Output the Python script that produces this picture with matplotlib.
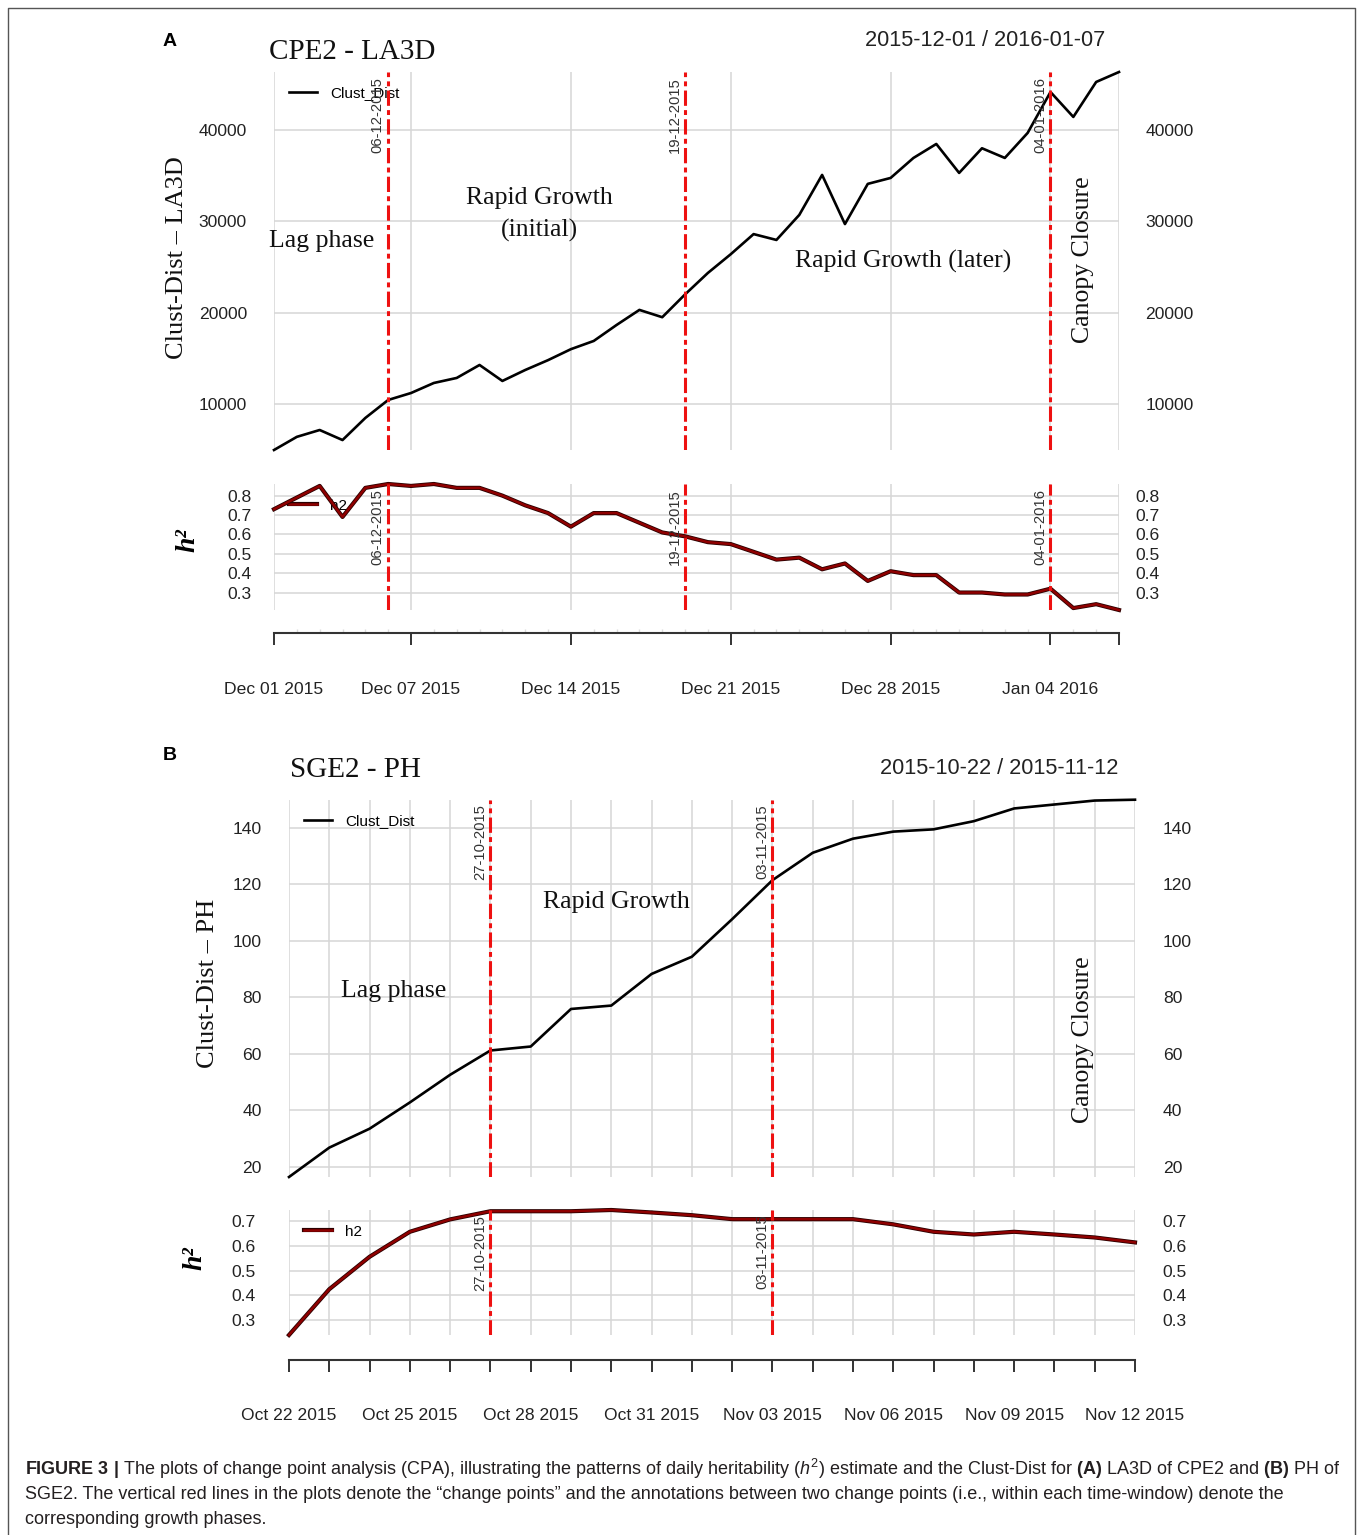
import numpy as np
import pandas as pd
import matplotlib
matplotlib.use("Agg")
import matplotlib.pyplot as plt
import matplotlib.dates as mdates
import matplotlib.patheffects as pe
from matplotlib.lines import Line2D

# ---- data ----
dates_a = pd.date_range("2015-12-01", "2016-01-07")
clust_a = [4960, 6400, 7150, 6050, 8470, 10440, 11200, 12300, 12850, 14270,
           12520, 13720, 14800, 16000, 16900, 18650, 20300, 19500, 22000, 24350,
           26400, 28600, 27960, 30700, 35080, 29700, 34100, 34750, 36940, 38470,
           35300, 38000, 36940, 39680, 44160, 41430, 45260, 46350]
h2_a = [0.73, 0.79, 0.85, 0.69, 0.84, 0.86, 0.85, 0.86, 0.84, 0.84,
        0.80, 0.75, 0.71, 0.64, 0.71, 0.71, 0.66, 0.61, 0.59, 0.56,
        0.55, 0.51, 0.47, 0.48, 0.42, 0.45, 0.36, 0.41, 0.39, 0.39,
        0.30, 0.30, 0.29, 0.29, 0.32, 0.22, 0.24, 0.21]
cp_a = ["2015-12-06", "2015-12-19", "2016-01-04"]
cp_a_labels = ["06-12-2015", "19-12-2015", "04-01-2016"]
ticks_a = ["2015-12-01", "2015-12-07", "2015-12-14", "2015-12-21", "2015-12-28", "2016-01-04", "2016-01-07"]
ticklabels_a = ["Dec 01 2015", "Dec 07 2015", "Dec 14 2015", "Dec 21 2015", "Dec 28 2015", "Jan 04 2016", ""]
yticks_a = [10000, 20000, 30000, 40000]

dates_b = pd.date_range("2015-10-22", "2015-11-12")
clust_b = [16.4, 26.8, 33.5, 42.8, 52.6, 61.2, 62.6, 75.9, 77.1, 88.3, 94.4,
           107.7, 121.5, 131.2, 136.2, 138.7, 139.5, 142.4, 146.9, 148.3, 149.7, 150.0]
h2_b = [0.24, 0.425, 0.556, 0.657, 0.707, 0.74, 0.74, 0.74, 0.745, 0.735, 0.724,
        0.708, 0.708, 0.708, 0.708, 0.687, 0.657, 0.646, 0.657, 0.646, 0.634, 0.614]
cp_b = ["2015-10-27", "2015-11-03"]
cp_b_labels = ["27-10-2015", "03-11-2015"]
ticklabels_b = ["Oct 22 2015", "Oct 25 2015", "Oct 28 2015", "Oct 31 2015",
                "Nov 03 2015", "Nov 06 2015", "Nov 09 2015", "Nov 12 2015"]
yticks_b = [20, 40, 60, 80, 100, 120, 140]
h2_ticks_a = [0.3, 0.4, 0.5, 0.6, 0.7, 0.8]
h2_ticks_b = [0.3, 0.4, 0.5, 0.6, 0.7]

SANS = "Liberation Sans"
SERIF = "Liberation Serif"
RED = "#ee1111"
GRID = "#d6d6d6"
plt.rcParams["font.family"] = SANS
plt.rcParams["font.size"] = 12.6
plt.rcParams["mathtext.fontset"] = "custom"
plt.rcParams["mathtext.rm"] = SANS
plt.rcParams["mathtext.it"] = SANS + ":italic"
plt.rcParams["mathtext.bf"] = SANS + ":bold"

W, H = 1360, 1535
fig = plt.figure(figsize=(W / 100, H / 100), dpi=100)


def box(l, t, r, b):
    # pixel box -> figure fraction
    return [l / W, 1 - b / H, (r - l) / W, (b - t) / H]


def ftxt(x, y, s, **kw):
    fig.text(x / W, 1 - y / H, s, **kw)


def clean(ax):
    for s in ax.spines.values():
        s.set_visible(False)
    ax.patch.set_visible(False)


def right_labels(ax, ticks, pad):
    sec = ax.secondary_yaxis("right")
    sec.set_yticks(ticks)
    sec.tick_params(length=0, pad=pad, labelcolor="#222")
    sec.spines["right"].set_visible(False)


def cp_lines(ax, cps, labels):
    for c, lab in zip(cps, labels):
        c = mdates.date2num(pd.Timestamp(c))
        ax.axvline(c, color=RED, lw=2.2, ls=(0, (5, 1.4, 1.6, 1.4)), zorder=4)
        ax.annotate(lab, xy=(c, 1), xycoords=("data", "axes fraction"),
                    xytext=(-2.5, -3.5), textcoords="offset points", rotation=90,
                    ha="right", va="top", fontsize=10.6, color="#333", zorder=5)


def add_legend(ax):
    leg = ax.legend(loc="upper left", frameon=False, fontsize=11, handlelength=1.85,
                    handletextpad=0.85, borderaxespad=0.75, borderpad=0.2)
    leg.set_zorder(1)


def draw_panel(rects, dates, clust, h2, cps, cp_labels, yticks, h2_ticks,
               grid_dates, tick_dates, tick_labels, pads, minor_days):
    x = mdates.date2num(dates)
    r_main, r_h2, r_x = rects

    # Clust-Dist panel
    ax = fig.add_axes(box(*r_main))
    ax.plot(x, clust, color="black", lw=1.9, clip_on=False, zorder=3, label="Clust_Dist")
    ax.set_xlim(x[0], x[-1])
    ax.set_ylim(min(clust), max(clust))
    ax.set_yticks(yticks)
    ax.set_xticks(mdates.date2num(grid_dates))
    ax.grid(color=GRID, lw=1.1)
    ax.set_axisbelow(True)
    ax.tick_params(length=0, labelbottom=False, pad=pads[0], labelcolor="#222")
    clean(ax)
    right_labels(ax, yticks, pads[1])
    cp_lines(ax, cps, cp_labels)
    add_legend(ax)

    # h2 panel
    ah = fig.add_axes(box(*r_h2))
    ah.plot(x, h2, color="#8f0000", lw=1.8, clip_on=False, zorder=3, label="h2",
            path_effects=[pe.Stroke(linewidth=3.0, foreground="#2a0000"), pe.Normal()])
    ah.set_xlim(x[0], x[-1])
    ah.set_ylim(min(h2), max(h2))
    ah.set_yticks(h2_ticks)
    ah.set_xticks(mdates.date2num(grid_dates))
    ah.grid(color=GRID, lw=1.1)
    ah.set_axisbelow(True)
    ah.tick_params(length=0, labelbottom=False, pad=pads[2], labelcolor="#222")
    clean(ah)
    right_labels(ah, h2_ticks, pads[3])
    cp_lines(ah, cps, cp_labels)
    add_legend(ah)

    # separate date axis below
    axx = fig.add_axes(box(*r_x))
    clean(axx)
    axx.spines["bottom"].set_visible(True)
    axx.spines["bottom"].set_color("#333")
    axx.spines["bottom"].set_linewidth(1.5)
    axx.set_xlim(x[0], x[-1])
    axx.set_yticks([])
    axx.set_xticks(mdates.date2num(tick_dates))
    axx.set_xticklabels(tick_labels)
    axx.tick_params(axis="x", direction="out", length=8.6, width=1.4, color="#333",
                    pad=pads[4], labelcolor="#222")
    if minor_days:
        axx.set_xticks(x, minor=True)
        axx.tick_params(axis="x", which="minor", direction="in", length=3, width=1, color="#dddddd")
    return ax, ah


# ---- panel A ----
axA, ahA = draw_panel([(274, 72, 1119, 450), (274, 484, 1119, 610), (274, 620, 1119, 633)],
                      dates_a, clust_a, h2_a, cp_a, cp_a_labels, yticks_a, h2_ticks_a,
                      pd.to_datetime(ticks_a), pd.to_datetime(ticks_a), ticklabels_a,
                      (19.5, 19, 16, 12, 26.5), True)
serif = dict(family=SERIF, fontsize=18.5, color="#111")
axA.text(-0.006, 0.553, "Lag phase", transform=axA.transAxes, ha="left", va="center", **serif)
axA.text(0.3136, 0.624, "Rapid Growth\n(initial)", transform=axA.transAxes, ha="center",
         va="center", linespacing=1.55, **serif)
axA.text(0.745, 0.50, "Rapid Growth (later)", transform=axA.transAxes, ha="center", va="center", **serif)
axA.text(0.957, 0.503, "Canopy Closure", transform=axA.transAxes, ha="center", va="center",
         rotation=90, **serif)

# ---- panel B ----
labels_b_all = [""] * len(dates_b)
for i in range(0, len(dates_b), 3):
    labels_b_all[i] = ticklabels_b[i // 3]
axB, ahB = draw_panel([(289, 799.7, 1135, 1177), (289, 1210, 1135, 1335), (289, 1347, 1135, 1360)],
                      dates_b, clust_b, h2_b, cp_b, cp_b_labels, yticks_b, h2_ticks_b,
                      dates_b, dates_b, labels_b_all, (19.5, 20, 24, 20, 26), False)
axB.text(0.1235, 0.493, "Lag phase", transform=axB.transAxes, ha="center", va="center", **serif)
axB.text(0.387, 0.729, "Rapid Growth", transform=axB.transAxes, ha="center", va="center", **serif)
axB.text(0.9385, 0.363, "Canopy Closure", transform=axB.transAxes, ha="center", va="center",
         rotation=90, **serif)

# ---- titles and axis labels ----
ftxt(163, 41, "A", weight="bold", fontsize=14, va="center")
ftxt(269, 52, "CPE2 - LA3D", family=SERIF, fontsize=21, va="center", color="#111")
ftxt(865, 41, "2015-12-01 / 2016-01-07", fontsize=15.7, va="center", color="#222")
ftxt(177, 258, "Clust-Dist \u2013 LA3D", rotation=90, family=SERIF, fontsize=19,
     ha="center", va="center", color="#111")
ftxt(188, 540, "h\u00b2", rotation=90, family=SERIF, style="italic", weight="bold",
     fontsize=20, ha="center", va="center")

ftxt(163, 755, "B", weight="bold", fontsize=14, va="center")
ftxt(290, 770, "SGE2 - PH", family=SERIF, fontsize=21, va="center", color="#111")
ftxt(880, 768, "2015-10-22 / 2015-11-12", fontsize=15.7, va="center", color="#222")
ftxt(208, 983, "Clust-Dist \u2013 PH", rotation=90, family=SERIF, fontsize=19,
     ha="center", va="center", color="#111")
ftxt(195, 1258, "h\u00b2", rotation=90, family=SERIF, style="italic", weight="bold",
     fontsize=20, ha="center", va="center")

# ---- caption ----
cap = [
    r"$\mathbf{FIGURE\ 3\ |}$ The plots of change point analysis (CPA), illustrating the patterns of "
    r"daily heritability ($\mathit{h}^{2}$) estimate and the Clust-Dist for $\mathbf{(A)}$ LA3D of CPE2 "
    r"and $\mathbf{(B)}$ PH of",
    "SGE2. The vertical red lines in the plots denote the \u201cchange points\u201d and the annotations "
    "between two change points (i.e., within each time-window) denote the",
    "corresponding growth phases.",
]
for i, line in enumerate(cap):
    ftxt(25, 1469 + i * 25.5, line, fontsize=12.95, va="center", color="#231f20")

# frame around the figure
fig.add_artist(Line2D([8 / W, 8 / W, 1355 / W, 1355 / W], [0, 1 - 8 / H, 1 - 8 / H, 0],
                      transform=fig.transFigure, color="#555", lw=1))

fig.savefig("out.png", dpi=100)
